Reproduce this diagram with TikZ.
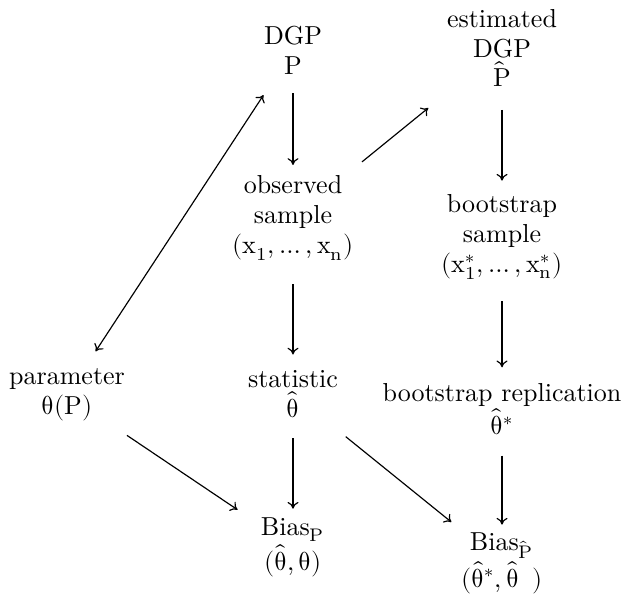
\documentclass[tikz,border=0pt]{standalone}
\usepackage[math-style=upright]{unicode-math}
\usetikzlibrary{arrows.meta}
\tikzset{
  lbl/.style={align=center,inner sep=0pt,font=\fontsize{10}{11.5}\selectfont},
  arr/.style={-{To[length=2.6pt,width=4.2pt]},line width=0.45pt},
  darr/.style={{To[length=2.6pt,width=4.2pt]}-{To[length=2.6pt,width=4.2pt]},line width=0.45pt}
}
\begin{document}
\begin{tikzpicture}[x=0.3846pt,y=-0.3846pt]
\useasboundingbox (0,0) rectangle (624,597);
\node[lbl] (dgp) at (293,50) {DGP\\$P$};
\node[lbl] (est) at (502,48) {estimated\\DGP\\$\hat{P}$};
\node[lbl] (obs) at (293,218) {observed\\sample\\$(x_1,\ldots,x_n)$};
\node[lbl] (bs) at (502,237) {bootstrap\\sample\\$(x_1^*,\ldots,x_n^*)$};
\node[lbl] (par) at (67,395) {parameter\\$\theta(P)$};
\node[lbl] (stat) at (293,394) {statistic\\$\hat{\theta}$};
\node[lbl] (rep) at (502,409) {bootstrap replication\\$\hat{\theta}^*$};
\node[lbl] (bp) at (293,547) {Bias$_{P}$\\$(\hat{\theta},\theta)$};
\node[lbl] (bph) at (502,563) {Bias$_{\hat{P}}$\\$(\hat{\theta}^*,\hat{\theta}\ \,)$};
\draw[arr,shorten <=7.1pt,shorten >=4pt] (dgp) -- (obs);
\draw[arr,shorten <=8.6pt,shorten >=5.2pt] (est) -- (bs);
\draw[arr,shorten <=9pt,shorten >=5.9pt] (obs) -- (stat);
\draw[arr,shorten <=8.2pt,shorten >=5.9pt] (bs) -- (rep);
\draw[arr,shorten <=7.8pt,shorten >=3.2pt] (stat) -- (bp);
\draw[arr,shorten <=7.8pt,shorten >=2.8pt] (rep) -- (bph);
\draw[arr,shorten <=8.2pt,shorten >=12.5pt] (obs) -- (est);
\draw[darr,shorten <=7.8pt,shorten >=9.4pt] (par) -- (dgp);
\draw[arr,shorten <=9.4pt,shorten >=10.6pt] (par) -- (bp);
\draw[arr,shorten <=11.3pt,shorten >=6pt] (stat) -- (bph);
\end{tikzpicture}
\end{document}
